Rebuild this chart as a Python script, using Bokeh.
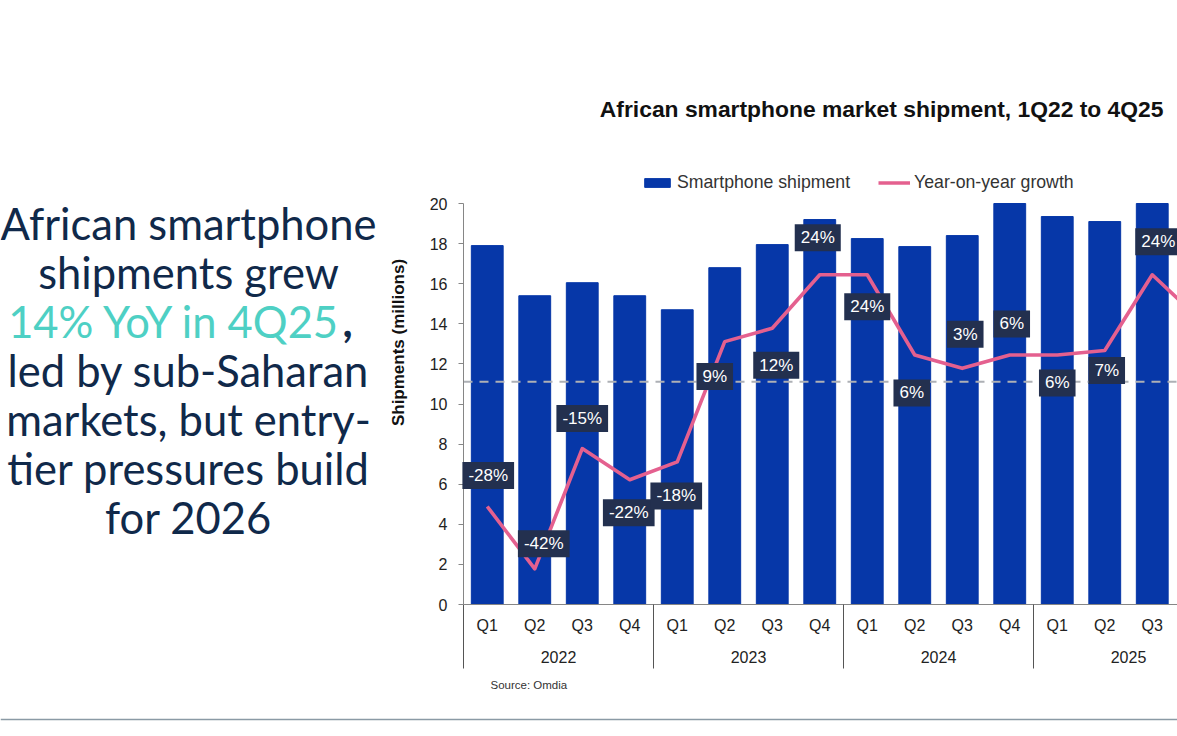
from math import pi
from bokeh.embed import file_html
from bokeh.resources import INLINE
from bokeh.plotting import figure
from bokeh.models import (ColumnDataSource, Range1d, LinearAxis, FixedTicker, Span, Label,
                          Legend, LegendItem)

quarters = ["Q1", "Q2", "Q3", "Q4"]
years = ["2022", "2023", "2024", "2025"]
# shipments (millions); Q4 2025 lies beyond the picture's right edge
shipments = [17.9, 15.4, 16.05, 15.4, 14.7, 16.8, 17.95, 19.2, 18.25, 17.85, 18.4, 20.0, 19.35, 19.1, 20.0]
# year-on-year growth (%), plotted on a hidden -50..40 axis
growth = [-28, -42, -15, -22, -18, 9, 12, 24, 24, 6, 3, 6, 6, 7, 24, 14]
# pixel offsets of the growth call-outs from their line points
label_dx = [1, 9, 0, -1, -1, -10, 4, -2, 0, -3, 3, 2, 0, 2, 6]
label_dy = [31, 25, 30, -33, -34, -35, -37, 37, -32, -38, 34, 31, -28, -20, 33]
headline = ["African smartphone", "shipments grew", None, "led by sub-Saharan",
            "markets, but entry-", "tier pressures build", "for 2026"]

FONT = "Liberation Sans"
DARK = "#222222"
NAVY = "#10294a"

W, H = 1177, 732
# The frame fills the whole canvas so that all annotations can sit around the chart area.
AX_L, AX_T, AX_B = 463, 203, 604      # pixel positions of the axes
XU = 47.5                             # px per quarter
YU = (AX_B - AX_T) / 20               # px per million
x_start, x_end = -AX_L / XU, (W - AX_L) / XU
y_start, y_end = -(H - AX_B) / YU, AX_B / YU
G_PER_Y = 90 / 20                     # growth axis: -50..40 over the 0..20 shipment axis

p = figure(width=W, height=H, output_backend="svg", toolbar_location=None,
           x_range=Range1d(x_start, x_end), y_range=Range1d(y_start, y_end),
           min_border=0, x_axis_type=None, y_axis_type=None,
           background_fill_color="white", border_fill_color="white")
p.outline_line_color = None
p.extra_y_ranges = {"growth": Range1d(-50 + y_start * G_PER_Y, -50 + y_end * G_PER_Y)}

# y axis
yax = LinearAxis(ticker=FixedTicker(ticks=list(range(0, 21, 2))), fixed_location=0, bounds=(0, 20))
yax.axis_line_color = "#868686"
yax.major_tick_line_color = "#868686"
yax.major_tick_in = 0
yax.major_tick_out = 5
yax.minor_tick_line_color = None
yax.major_label_text_font = FONT
yax.major_label_text_font_size = "16px"
yax.major_label_text_color = DARK
yax.major_label_standoff = 11
p.add_layout(yax, "left")

# quarter axis
centers = [i + 0.5 for i in range(16)]
qlabels = {c: quarters[i % 4] for i, c in enumerate(centers)}
qaxis = LinearAxis(ticker=FixedTicker(ticks=centers), major_label_overrides=qlabels,
                   fixed_location=0, bounds=(0, x_end))
qaxis.axis_line_color = "#868686"
qaxis.major_tick_line_color = None
qaxis.minor_tick_line_color = None
qaxis.major_tick_out = 0
qaxis.major_label_text_font = FONT
qaxis.major_label_text_font_size = "16px"
qaxis.major_label_text_color = DARK
qaxis.major_label_standoff = 12
p.add_layout(qaxis, "below")

# year separators
sep_ticks = [0, 4, 8, 12]
sep = LinearAxis(ticker=FixedTicker(ticks=sep_ticks), fixed_location=0, bounds=(0, x_end),
                 major_label_overrides={t: "" for t in sep_ticks})
sep.axis_line_color = None
sep.minor_tick_line_color = None
sep.major_tick_line_color = "#555555"
sep.major_tick_in = 0
sep.major_tick_out = 64
p.add_layout(sep, "below")

# year axis
ycenters = [2 + 4 * i for i in range(4)]
yrax = LinearAxis(ticker=FixedTicker(ticks=ycenters), fixed_location=0, bounds=(0, x_end),
                  major_label_overrides=dict(zip(ycenters, years)))
yrax.axis_line_color = None
yrax.major_tick_line_color = None
yrax.minor_tick_line_color = None
yrax.major_tick_out = 0
yrax.major_label_text_font = FONT
yrax.major_label_text_font_size = "16px"
yrax.major_label_text_color = DARK
yrax.major_label_standoff = 46
p.add_layout(yrax, "below")

# marks
bars = ColumnDataSource(dict(x=centers[:len(shipments)], top=shipments))
line_src = ColumnDataSource(dict(x=centers, y=growth))
vb = p.vbar(x="x", top="top", width=0.67, bottom=0, source=bars, color="#0637a8")
p.line(x=[0, x_end], y=[0, 0], y_range_name="growth", line_color="#adb0b5",
       line_width=2, line_dash=[9, 7])
ln = p.line(x="x", y="y", source=line_src, y_range_name="growth", line_color="#e4608f",
            line_width=3.6, line_join="round")

# call-outs
for i, dx, dy in zip(range(len(label_dx)), label_dx, label_dy):
    p.add_layout(Label(x=centers[i], y=growth[i], y_range_name="growth", x_offset=dx, y_offset=dy,
                       text=f"{growth[i]}%", text_align="center", text_baseline="middle",
                       text_font=FONT, text_font_size="17px", text_color="white",
                       background_fill_color="#23304f", padding=(6, 4)))

# legend
legend = Legend(items=[LegendItem(label="Smartphone shipment", renderers=[vb]),
                       LegendItem(label="Year-on-year growth", renderers=[ln])],
                orientation="horizontal", location=(641, H - 193), background_fill_alpha=0,
                border_line_color=None, glyph_width=32, glyph_height=11, label_standoff=4,
                spacing=28, padding=0, margin=0, label_text_font=FONT,
                label_text_font_size="17.7px", label_text_color="#333333")
p.add_layout(legend)

def page_label(px, py, text, **kw):
    """Text placed by its position on the page (y measured from the top)."""
    p.add_layout(Label(x=px, y=H - py, x_units="screen", y_units="screen", text=text, **kw))

# title
page_label(1163, 108, "African smartphone market shipment, 1Q22 to 4Q25", text_align="right",
           text_baseline="middle", text_font=FONT, text_font_size="22.85px",
           text_font_style="bold", text_color="#111111")
# y title and source
page_label(398, 342, "Shipments (millions)", angle=pi / 2, text_align="center",
           text_baseline="middle", text_font=FONT, text_font_size="17px",
           text_font_style="bold", text_color="#111111")
page_label(490, 684, "Source: Omdia", text_align="left", text_baseline="middle",
           text_font=FONT, text_font_size="11.5px", text_color="#333333")

# headline on the left
LEFT = "Lato"
SIZE = "43.5px"
base = 222
for n, line in enumerate(headline):
    if line is None:
        continue
    page_label(188, base + 49 * n, line, text_align="center", text_baseline="alphabetic",
               text_font=LEFT, text_font_size=SIZE, text_color=NAVY)
page_label(341, base + 49 * 2, "14% YoY in 4Q25", text_align="right", text_baseline="alphabetic",
           text_font=LEFT, text_font_size=SIZE, text_color="#4ed0c4")
page_label(342, base + 49 * 2, ",", text_align="left", text_baseline="alphabetic",
           text_font=LEFT, text_font_size=SIZE, text_font_style="bold", text_color=NAVY)

# bottom rule
p.add_layout(Span(location=-(719 - AX_B) / YU, dimension="width", line_color="#8a9aa5", line_width=1.5))

open("out.html", "w").write(file_html(p, INLINE))
